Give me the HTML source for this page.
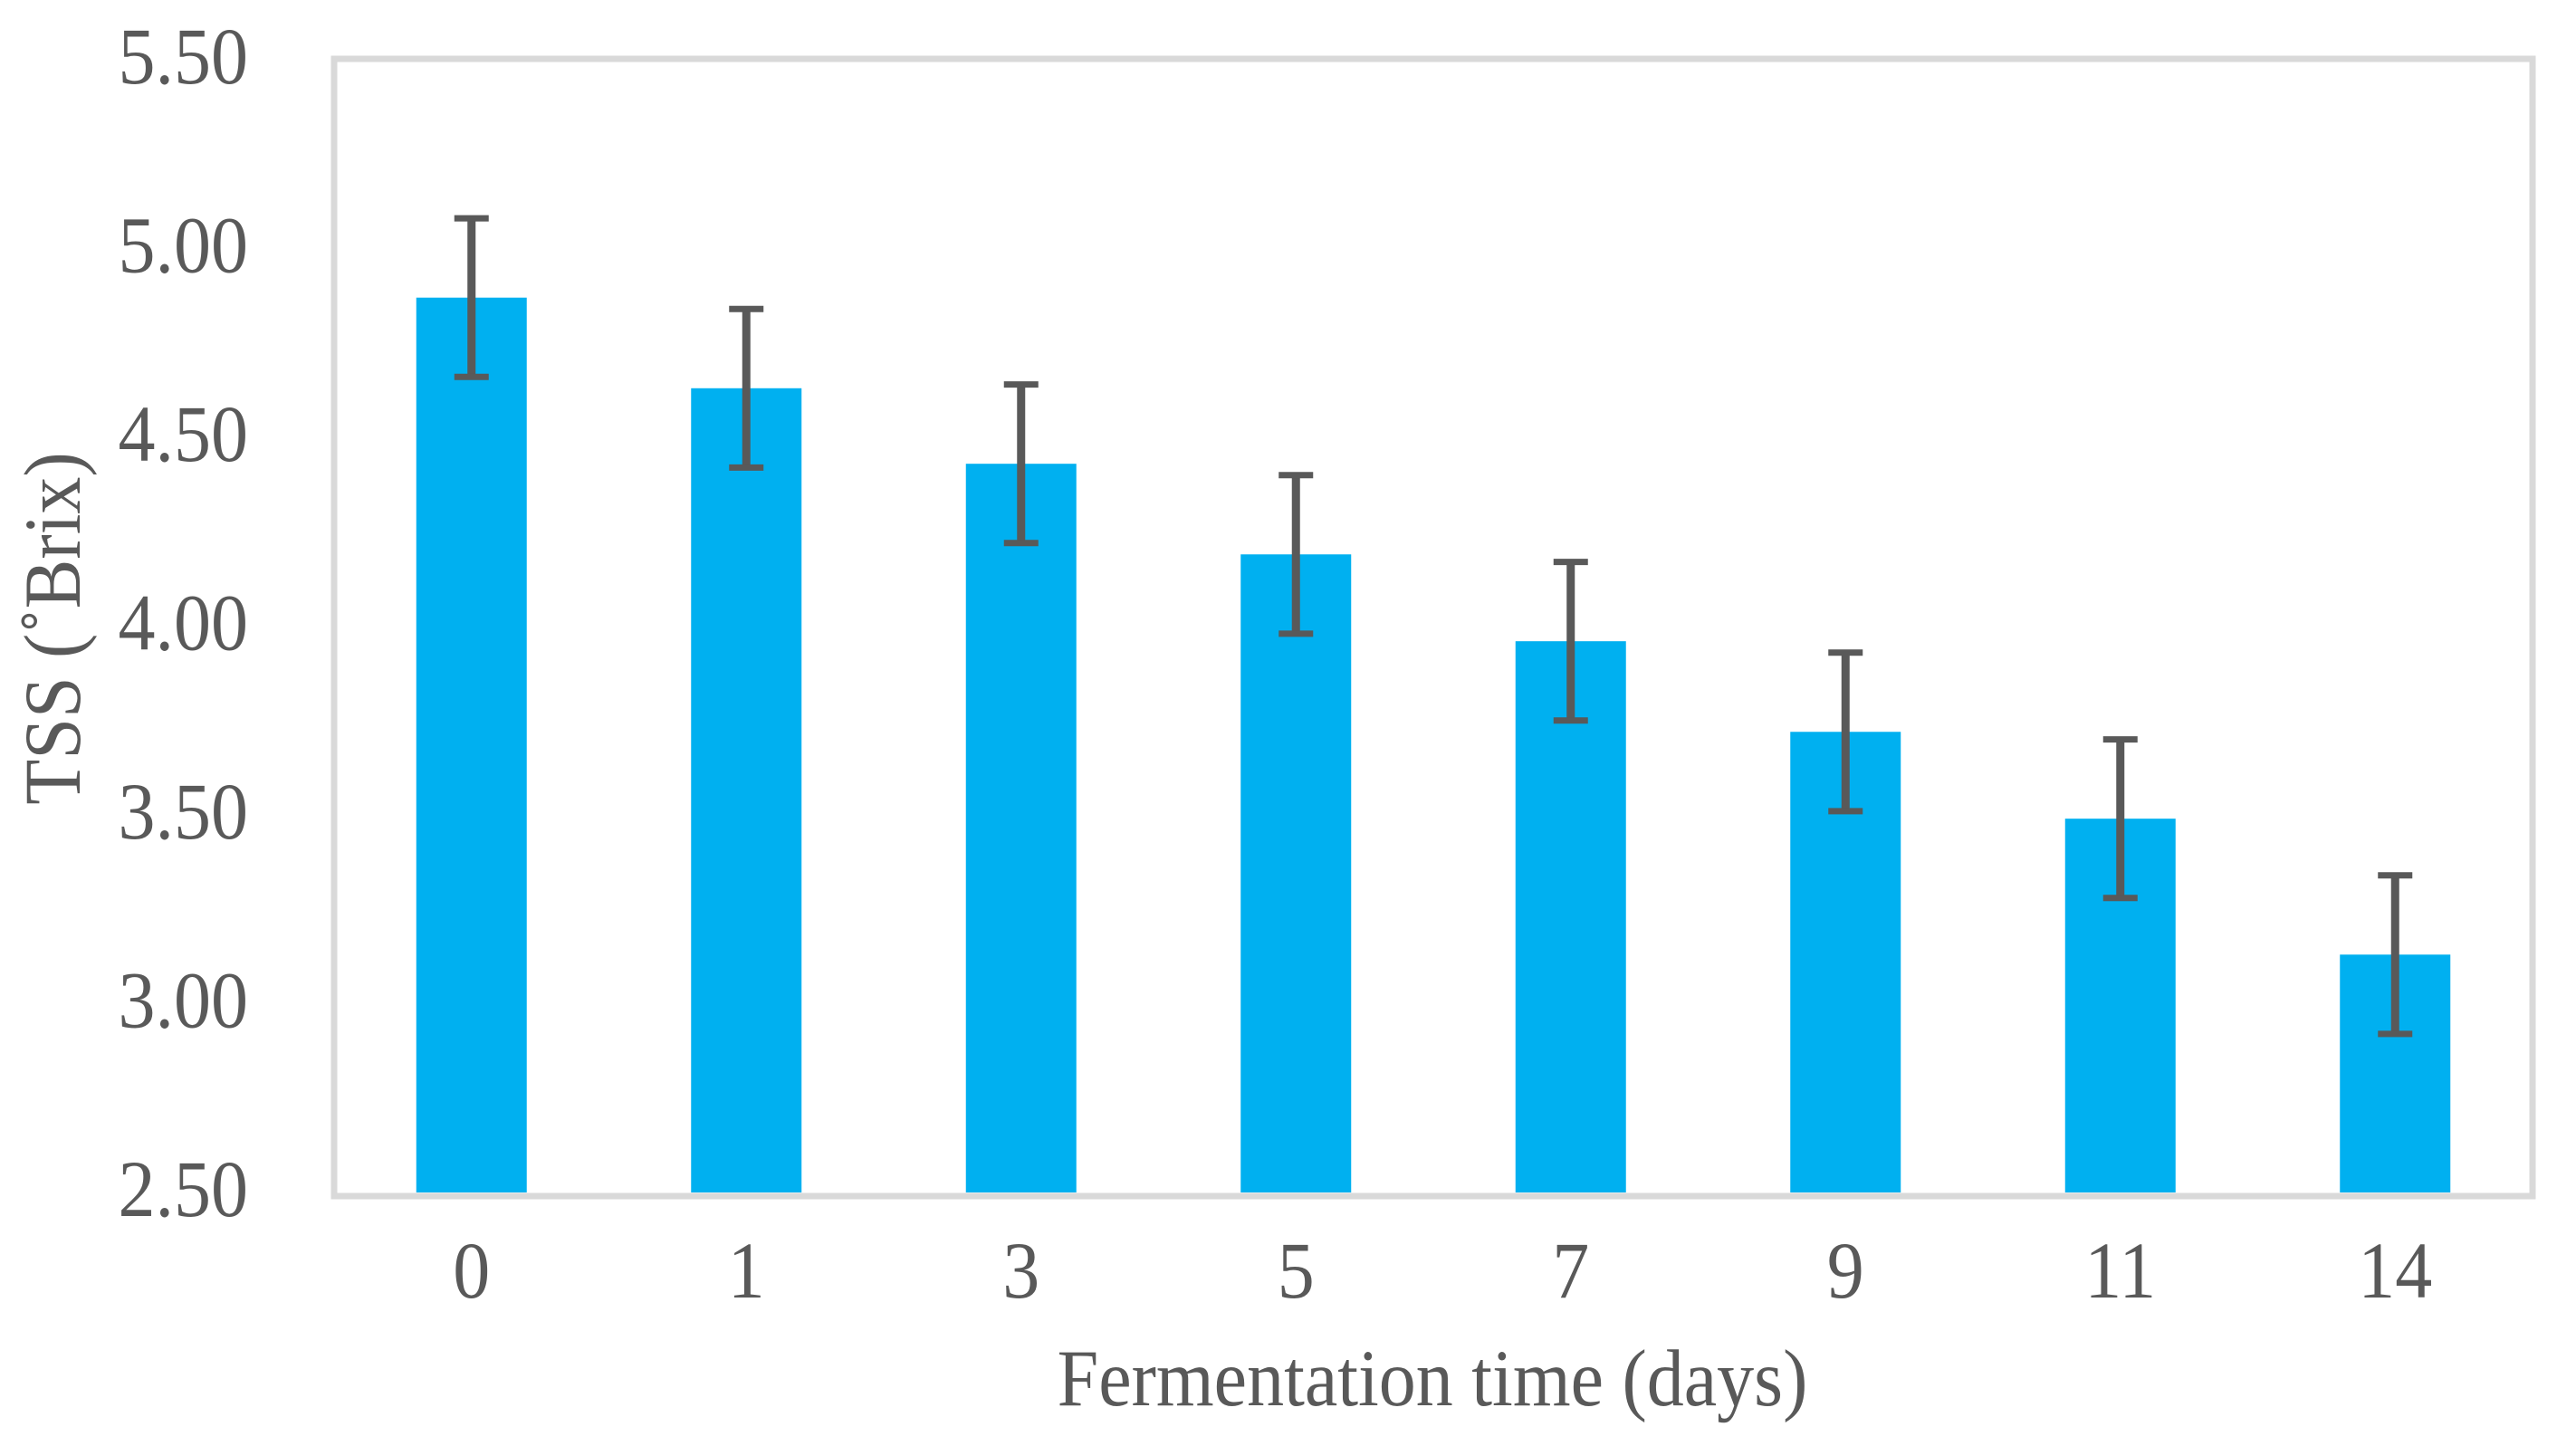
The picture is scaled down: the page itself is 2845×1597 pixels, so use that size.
<!DOCTYPE html>
<html><head><meta charset="utf-8"><style>
html,body{margin:0;padding:0;background:#fff;}
svg{display:block;}
text{font-family:"Liberation Serif","Times New Roman",serif;fill:#595959;}
</style></head><body>
<svg id="chart" width="2845" height="1597" viewBox="0 0 2845 1597" xmlns="http://www.w3.org/2000/svg">
<rect x="369" y="65" width="2428" height="1256" fill="none" stroke="#d9d9d9" stroke-width="7"/>
<g id="bars"></g>
<g id="errs"></g>
<g id="yticks"></g>
<g id="xticks"></g>
<text transform="translate(1582,1552) scale(1,1.08)" x="0" y="0" font-size="82" text-anchor="middle">Fermentation time (days)</text>
<text transform="translate(88,694) rotate(-90) scale(1,1.08)" font-size="82" text-anchor="middle">TSS (˚Brix)</text>
</svg>
<script>
const categories = ["0","1","3","5","7","9","11","14"];
const values = [4.87, 4.63, 4.43, 4.19, 3.96, 3.72, 3.49, 3.13];
const errors = [0.21, 0.21, 0.21, 0.21, 0.21, 0.21, 0.21, 0.21];
const yTicks = [2.5, 3.0, 3.5, 4.0, 4.5, 5.0, 5.5];
const yTickLabels = ["2.50","3.00","3.50","4.00","4.50","5.00","5.50"];

const NS = "http://www.w3.org/2000/svg";
const plotL = 369, plotR = 2797, yMin = 2.5, yMax = 5.5, pyTop = 66, pyBot = 1317;
function yScale(v){ return pyBot - (v - yMin) / (yMax - yMin) * (pyBot - pyTop); }
function xCenter(i){ const w = (plotR - plotL) / categories.length; return plotL + w * (i + 0.5); }
const barW = 122, capW = 38;

function mk(tag, attrs){ const e = document.createElementNS(NS, tag); for (const k in attrs) e.setAttribute(k, attrs[k]); return e; }

const gb = document.getElementById("bars"), ge = document.getElementById("errs"),
      gy = document.getElementById("yticks"), gx = document.getElementById("xticks");

values.forEach((v, i) => {
  const cx = xCenter(i), top = yScale(v);
  const r = mk("rect", {x: cx - barW/2, y: top, width: barW, height: pyBot - top, fill: "#00b0f0"});
  
  
  gb.appendChild(r);

  const hi = yScale(v + errors[i]), lo = yScale(v - errors[i]);
  const g = mk("g", {stroke: "#595959", "stroke-width": 7});
  
  
  g.appendChild(mk("line", {x1: cx, x2: cx, y1: hi, y2: lo, "stroke-width": 9}));
  g.appendChild(mk("line", {x1: cx - capW/2, x2: cx + capW/2, y1: hi, y2: hi}));
  g.appendChild(mk("line", {x1: cx - capW/2, x2: cx + capW/2, y1: lo, y2: lo}));
  ge.appendChild(g);

  const t = mk("text", {transform: "translate(" + cx + ",1433) scale(1,1.08)", x: 0, y: 0, "font-size": 82, "text-anchor": "middle"});
  t.textContent = categories[i];
  
  
  gx.appendChild(t);
});

yTicks.forEach((v, i) => {
  const t = mk("text", {transform: "translate(274," + (yScale(v) + 26) + ") scale(1,1.08)", x: 0, y: 0, "font-size": 82, "text-anchor": "end"});
  t.textContent = yTickLabels[i];
  
  
  gy.appendChild(t);
});
</script>
</body></html>
